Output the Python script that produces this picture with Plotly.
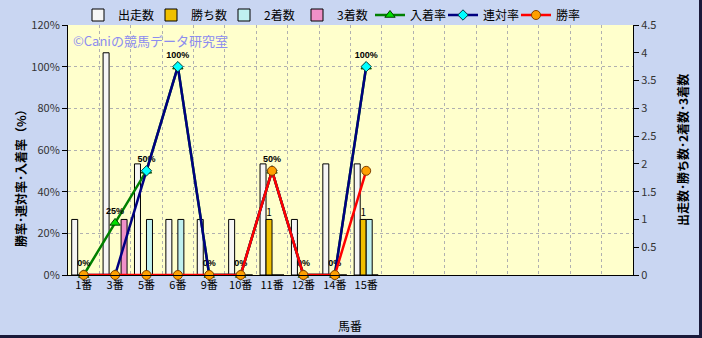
import plotly.graph_objects as go

cats = ["1番", "3番", "5番", "6番", "9番", "10番", "11番", "12番", "14番", "15番"]
n_slots = 18
starts = [1, 4, 2, 1, 1, 1, 2, 1, 2, 2]
wins = [0, 0, 0, 0, 0, 0, 1, 0, 0, 1]
seconds = [0, 0, 1, 1, 0, 0, 0, 0, 0, 1]
thirds = [0, 1, 0, 0, 0, 0, 0, 0, 0, 0]
place_rate = [0, 0.25, 0.5, 1.0, 0, 0, 0.5, 0, 0, 1.0]
rentai_rate = [0, 0, 0.5, 1.0, 0, 0, 0.5, 0, 0, 1.0]
win_rate = [0, 0, 0, 0, 0, 0, 0.5, 0, 0, 0.5]

xs = list(range(len(cats)))
FONT = "Noto Sans CJK JP"

fig = go.Figure()
bar_specs = [
    ("出走数", starts, "#f6f6f6"),
    ("勝ち数", wins, "#f0c000"),
    ("2着数", seconds, "#bff0f0"),
    ("3着数", thirds, "#f090c8"),
]
for name, vals, col in bar_specs:
    kw = {}
    if name == "勝ち数":
        kw = dict(text=[str(v) if v else "" for v in vals], textposition="outside",
                  constraintext="none", cliponaxis=False,
                  textfont=dict(size=10, color="#000000", family=FONT))
    fig.add_trace(go.Bar(x=xs, y=vals, name=name, yaxis="y",
                         marker=dict(color=col, line=dict(color="#000000", width=1)), **kw))

fig.add_trace(go.Scatter(x=xs, y=place_rate, name="入着率", yaxis="y2",
                         mode="lines+markers+text",
                         line=dict(color="#008000", width=2.5),
                         marker=dict(symbol="triangle-up", size=9, color="#00e000",
                                     line=dict(color="#004000", width=1)),
                         texttemplate="%{y:.0%}", textposition="top center",
                         textfont=dict(size=9, color="#000000", family="Liberation Sans", weight="bold"),
                         cliponaxis=False))
fig.add_trace(go.Scatter(x=xs, y=rentai_rate, name="連対率", yaxis="y2",
                         mode="lines+markers",
                         line=dict(color="#000080", width=2.5),
                         marker=dict(symbol="diamond", size=8, color="#00ffff",
                                     line=dict(color="#004040", width=1)),
                         cliponaxis=False))
fig.add_trace(go.Scatter(x=xs, y=win_rate, name="勝率", yaxis="y2",
                         mode="lines+markers",
                         line=dict(color="#ff0000", width=2.5),
                         marker=dict(symbol="circle", size=9, color="#ffa000",
                                     line=dict(color="#804000", width=1)),
                         cliponaxis=False))

x0, x1, y0, y1 = 68, 633, 25, 275
W, H = 702, 338
pw, ph = x1 - x0, y1 - y0

def px(x):
    return (x - x0) / pw

def py(y):
    return (y1 - y) / ph

fig.update_layout(
    width=W, height=H,
    margin=dict(l=x0, r=W - x1, t=y0, b=H - y1, pad=0, autoexpand=False),
    paper_bgcolor="#c9d6f2",
    plot_bgcolor="#ffffcc",
    barmode="group", bargap=0.236, bargroupgap=0,
    font=dict(family=FONT, size=11, color="#333333"),
    showlegend=True,
    legend=dict(orientation="h", x=px(78), y=py(15), xanchor="left", yanchor="middle",
                bgcolor="rgba(0,0,0,0)", font=dict(size=12, color="#000000", family=FONT),
                itemwidth=30, traceorder="normal", entrywidth=28, entrywidthmode="pixels"),
    xaxis=dict(range=[-0.5, n_slots - 0.5], tickvals=xs, ticktext=cats,
               showgrid=False, showline=True, linecolor="#000000", linewidth=1,
               ticks="", tickfont=dict(size=11, color="#000000"), zeroline=False,
               minor=dict(tickvals=[i + 0.5 for i in range(n_slots - 1)], showgrid=True,
                          gridcolor="#b0b0b0", griddash="dot", gridwidth=1, ticks="")),
    yaxis=dict(range=[0, 4.5], dtick=0.5, side="right", showgrid=False, zeroline=False,
               showline=True, linecolor="#000000", linewidth=1, ticks="outside", ticklen=5,
               tickcolor="#000000", tickformat="~g"),
    yaxis2=dict(range=[0, 1.2], dtick=0.2, tickformat=".0%", overlaying="y", side="left",
                showgrid=True, gridcolor="#b0b0b0", griddash="dot", gridwidth=1, zeroline=False,
                showline=True, linecolor="#000000", linewidth=1, ticks="outside", ticklen=5,
                tickcolor="#000000"),
    annotations=[
        dict(text="©Caniの競馬データ研究室", xref="paper", yref="paper", x=px(71), y=py(40),
             xanchor="left", yanchor="middle", showarrow=False,
             font=dict(size=13, color="#8c8cf0", family=FONT)),
        dict(text="勝率･連対率･入着率（%）", xref="paper", yref="paper", x=px(20), y=py(175),
             xanchor="center", yanchor="middle", showarrow=False, textangle=-90,
             font=dict(size=12, color="#000000", family=FONT, weight="bold")),
        dict(text="出走数･勝ち数･2着数･3着数", xref="paper", yref="paper", x=px(682), y=py(150),
             xanchor="center", yanchor="middle", showarrow=False, textangle=-90,
             font=dict(size=12, color="#000000", family=FONT, weight="bold")),
        dict(text="馬番", xref="paper", yref="paper", x=px(350), y=py(325),
             xanchor="center", yanchor="middle", showarrow=False,
             font=dict(size=12, color="#000000", family=FONT)),
    ],
    shapes=[
        dict(type="line", xref="paper", yref="paper", x0=px(0), x1=px(W), y0=py(336.5), y1=py(336.5),
             line=dict(color="#1a1a3a", width=3)),
        dict(type="line", xref="paper", yref="paper", x0=px(700.5), x1=px(700.5), y0=py(0), y1=py(H),
             line=dict(color="#1a1a3a", width=3)),
    ],
)

fig.write_html("out.html")
